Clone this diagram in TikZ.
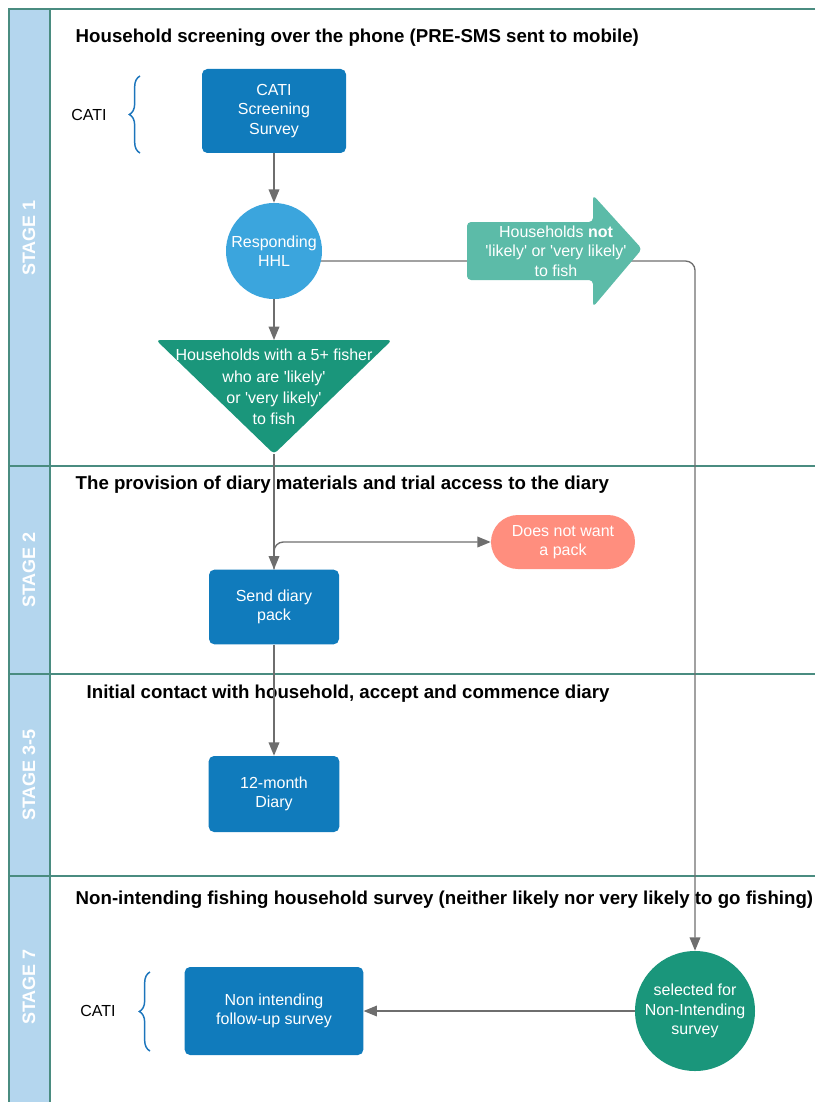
\documentclass[tikz,border=0pt]{standalone}
\usepackage{fontspec}
\setmainfont{Liberation Sans}
\usetikzlibrary{arrows.meta,decorations.pathreplacing,shapes.misc}

\definecolor{framecol}{RGB}{74,140,128}
\definecolor{bandcol}{RGB}{180,214,238}
\definecolor{boxblue}{RGB}{16,123,188}
\definecolor{hhlblue}{RGB}{59,165,221}
\definecolor{notteal}{RGB}{92,187,168}
\definecolor{darkteal}{RGB}{26,150,123}
\definecolor{salmon}{RGB}{255,142,126}
\definecolor{bracecol}{RGB}{28,117,188}
\definecolor{linegray}{RGB}{110,110,110}

\pgfdeclarelayer{frame}
\pgfdeclarelayer{lines}
\pgfsetlayers{frame,lines,main}

\newcommand{\sq}[1]{\textquotesingle#1\textquotesingle}

\begin{document}
\begin{tikzpicture}[x=0.75pt, y=-0.75pt,
    box/.style={fill=boxblue, rounded corners=4pt, text=white, align=center,
        font=\fontsize{12}{14.5}\selectfont},
    disc/.style={circle, inner sep=0pt, text=white, align=center,
        font=\fontsize{12}{14.5}\selectfont},
    stagelbl/.style={rotate=90, text=white, font=\fontsize{13.5}{15}\selectfont\bfseries},
    title/.style={anchor=west, font=\fontsize{14}{16}\selectfont\bfseries},
    catilbl/.style={font=\fontsize{12}{14}\selectfont},
    conn/.style={draw=linegray, line width=1pt, -{Triangle[length=10pt,width=8pt]}},
    curly/.style={draw=bracecol, line width=1.1pt, decorate,
        decoration={brace, amplitude=8pt}},
]
\useasboundingbox (0,0) rectangle (815,1102);

% Lanes
\begin{pgfonlayer}{frame}
\fill[bandcol] (9,9) rectangle (50,1102);
\draw[framecol, line width=1.6pt] (815,9) -- (9,9) -- (9,1102);
\draw[framecol, line width=1.6pt] (50,9) -- (50,1102);
\foreach \yy in {466,674,876}
    \draw[framecol, line width=1.6pt] (9,\yy) -- (815,\yy);

\node[stagelbl] (s1) at (29,238) {STAGE 1};
\node[stagelbl] (s2) at (29,570) {STAGE 2};
\node[stagelbl] (s3) at (29,775) {STAGE 3-5};
\node[stagelbl] (s7) at (29,987) {STAGE 7};

% Lane titles
\node[title] (t1) at (71,38) {Household screening over the phone (PRE-SMS sent to mobile)};
\node[title] (t2) at (71,485) {The provision of diary materials and trial access to the diary};
\node[title] (t3) at (82,694) {Initial contact with household, accept and commence diary};
\node[title] (t7) at (71,900) {Non-intending fishing household survey (neither likely nor very likely to go fishing)};
\end{pgfonlayer}

% Stage 1
\node[box, minimum width=108pt, minimum height=63pt] (cati) at (274,111) {CATI\\Screening\\Survey};
\node[disc, fill=hhlblue, minimum size=72pt] (hhl) at (274,251) {Responding\\HHL};

\fill[darkteal, rounded corners=3pt] (156,340) -- (392,340) -- (274,454) -- cycle;
\coordinate (tritop) at (274,340);
\coordinate (tritip) at (274,454);
\node[text=white, align=center, font=\fontsize{12}{16}\selectfont] (fishtri) at (274,387)
    {Households with a 5+ fisher\\who are \sq{likely}\\or \sq{very likely}\\to fish};

\fill[notteal, rounded corners=3pt] (467,222) -- (593,222) -- (593,195) -- (642,249)
    -- (593,307) -- (593,280) -- (467,280) -- cycle;
\node[text=white, align=center, font=\fontsize{12}{14.5}\selectfont] (nothh) at (556,251)
    {Households \textbf{not}\\\sq{likely} or \sq{very likely}\\to fish};

\node[catilbl] (cati1) at (89,115) {CATI};
\draw[curly] (140,153) -- (140,76);

% Stage 2
\node[box, minimum width=97.5pt, minimum height=56pt] (send) at (274,607) {Send diary\\pack};
\node[rounded rectangle, fill=salmon, text=white, align=center, inner sep=0pt,
    minimum width=108pt, minimum height=40.5pt, font=\fontsize{12}{14.5}\selectfont]
    (nopack) at (563,542) {Does not want\\a pack};

% Stage 3-5
\node[box, minimum width=98pt, minimum height=57pt] (diary) at (274,794) {12-month\\Diary};

% Stage 7
\node[box, minimum width=134pt, minimum height=66pt] (nonint) at (274,1011) {Non intending\\follow-up survey};
\node[disc, fill=darkteal, minimum size=90pt] (sel) at (695,1011) {selected for\\Non-Intending\\survey};

\node[catilbl] (cati7) at (98,1011) {CATI};
\draw[curly] (150,1051) -- (150,972);

% Connectors
\begin{pgfonlayer}{lines}
\draw[conn] (cati) -- (hhl);
\draw[conn] (hhl) -- (tritop);
\draw[conn] (tritip) -- (send);
\draw[conn, rounded corners=7pt] (send.north) |- (nopack.west);
\draw[conn] (send) -- (diary);
\draw[conn, rounded corners=7pt] (hhl.-12) -| (sel.north);
\draw[conn] (sel) -- (nonint);
\end{pgfonlayer}

\end{tikzpicture}
\end{document}
